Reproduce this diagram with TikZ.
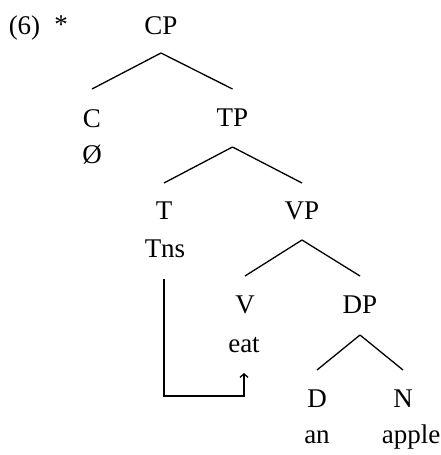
\documentclass[tikz,border=0pt]{standalone}
\usepackage{fontspec}
\setmainfont{Liberation Serif}
\usetikzlibrary{arrows.meta}
\begin{document}
\begin{tikzpicture}[x=1pt,y=-1pt,
  lab/.style={anchor=base,inner sep=0pt,font=\fontsize{27}{31}\selectfont},
  branch/.style={line width=1.3pt},
  mv/.style={line width=1.3pt,-{Straight Barb[length=3.5pt,width=8pt]}}]
\useasboundingbox (0,0) rectangle (440,455);
\fill[white] (0,0) rectangle (440,455);
% labels
\node[lab] (ex) at (24.5,34) {(6)};
\node[lab] (star) at (61,33) {*};
\node[lab] (CP) at (161,34) {CP};
\node[lab] (C) at (92,127) {C};
\node[lab] (Cnull) at (92,163) {Ø};
\node[lab] (TP) at (232.5,126) {TP};
\node[lab] (T) at (164,219) {T};
\node[lab] (Tns) at (165,257) {Tns};
\node[lab] (VP) at (302,219) {VP};
\node[lab] (V) at (245,313) {V};
\node[lab] (eat) at (244,352) {eat};
\node[lab] (DP) at (360,313) {DP};
\node[lab] (D) at (317,407) {D};
\node[lab] (an) at (317,443) {an};
\node[lab] (N) at (403,407) {N};
\node[lab] (apple) at (411,443) {apple};
% branches
\draw[branch] ([yshift=-19pt]CP.base) -- ([yshift=38pt]C.base);
\draw[branch] ([yshift=-19pt]CP.base) -- ([yshift=37pt]TP.base);
\draw[branch] ([yshift=-21pt]TP.base) -- ([yshift=36pt]T.base);
\draw[branch] ([yshift=-21pt]TP.base) -- ([yshift=36pt]VP.base);
\draw[branch] ([yshift=-21pt]VP.base) -- ([yshift=37pt]V.base);
\draw[branch] ([yshift=-21pt]VP.base) -- ([yshift=37pt]DP.base);
\draw[branch] ([yshift=-22pt]DP.base) -- ([yshift=37pt]D.base);
\draw[branch] ([yshift=-22pt]DP.base) -- ([yshift=37pt]N.base);
% movement arrow
\coordinate (corner) at (164,396);
\draw[mv] ([xshift=-1pt,yshift=-22pt]Tns.base) -- (corner) -| ([yshift=-21pt]eat.base);
\end{tikzpicture}
\end{document}
